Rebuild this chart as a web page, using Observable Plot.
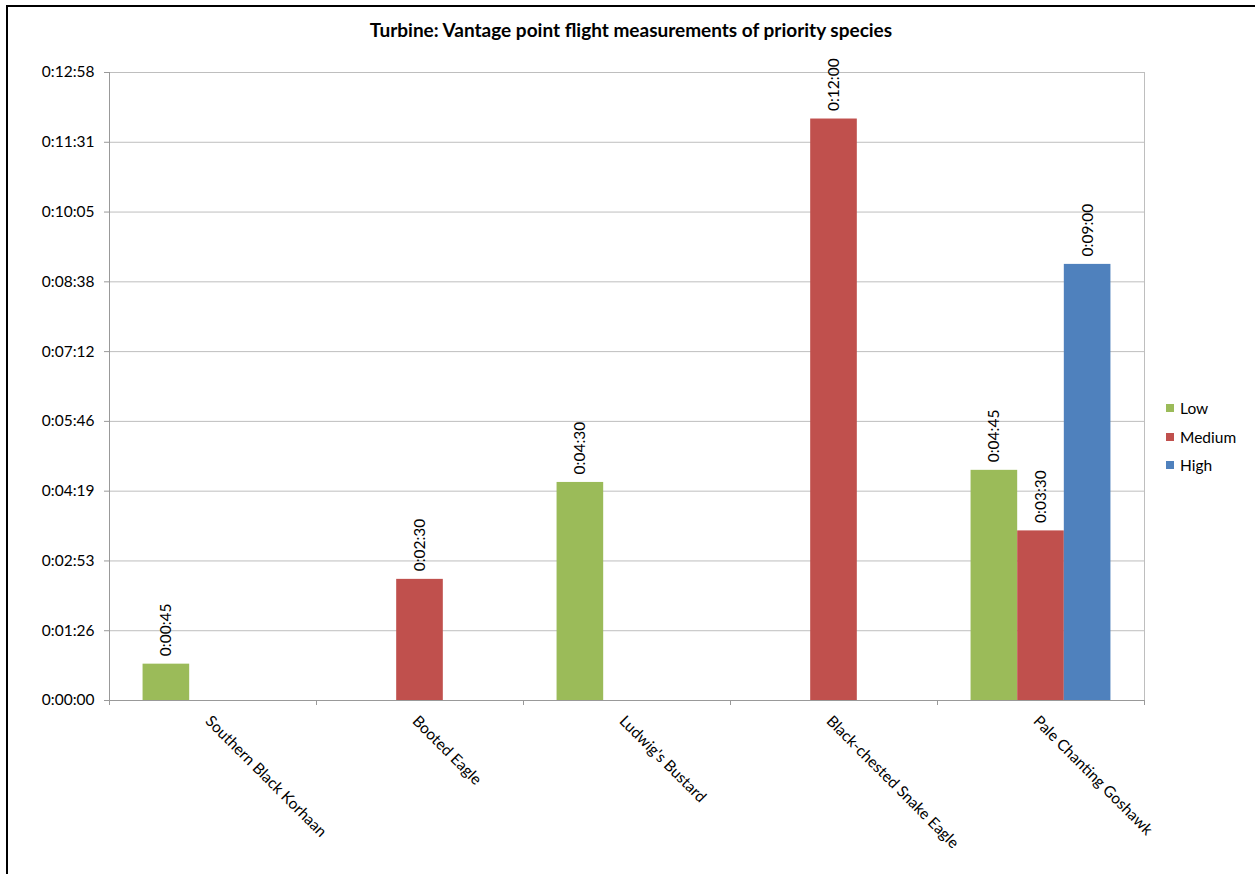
<!DOCTYPE html>
<html><head><meta charset="utf-8">
<script src="https://cdn.jsdelivr.net/npm/d3@7"></script>
<script src="https://cdn.jsdelivr.net/npm/@observablehq/plot@0.6"></script>
<style>
body{margin:0;background:#fff;font-family:Lato,sans-serif;}
#wrap{position:relative;width:1255px;height:874px;overflow:hidden;background:#fff;}
#border{position:absolute;left:6px;top:5px;width:1300px;height:900px;border-left:2px solid #000;border-top:2px solid #000;}
#title{position:absolute;left:0;width:1262px;top:18px;text-align:center;font-weight:bold;font-size:19px;color:#000;}
#chart{position:absolute;left:0;top:0;}
#legend{position:absolute;left:1166px;top:394px;font-size:15.5px;color:#000;}
.item{display:flex;align-items:center;height:28.5px;}
.sw{width:8px;height:8px;margin-right:6px;}
</style>
</head>
<body>
<div id="wrap">
  <div id="border"></div>
  <div id="chart"></div>
  <div id="title">Turbine: Vantage point flight measurements of priority species</div>
  <div id="legend"></div>
</div>
<script>
const categories = ["Southern Black Korhaan", "Booted Eagle", "Ludwig's Bustard", "Black-chested Snake Eagle", "Pale Chanting Goshawk"];
const seriesNames = ["Low", "Medium", "High"];
const seriesColors = ["#9BBB59", "#C0504D", "#4F81BD"];
// durations in seconds
const lowSeconds = [45, null, 270, null, 285];
const mediumSeconds = [null, 150, null, 720, 210];
const highSeconds = [null, null, null, null, 540];
const yTickSeconds = [0, 86.4, 172.8, 259.2, 345.6, 432, 518.4, 604.8, 691.2, 777.6];
const yTickLabels = ["0:00:00", "0:01:26", "0:02:53", "0:04:19", "0:05:46", "0:07:12", "0:08:38", "0:10:05", "0:11:31", "0:12:58"];

const seriesValues = [lowSeconds, mediumSeconds, highSeconds];
const records = [];
categories.forEach((c, i) => {
  seriesNames.forEach((s, j) => {
    const v = seriesValues[j][i];
    if (v != null) records.push({category: c, series: s, seconds: v});
  });
});

function fmt(sec) {
  const h = Math.floor(sec / 3600);
  const m = Math.floor((sec % 3600) / 60);
  const s = Math.round(sec % 60);
  return h + ":" + String(m).padStart(2, "0") + ":" + String(s).padStart(2, "0");
}

const FS = 15.5;
const chart = Plot.plot({
  width: 1255,
  height: 874,
  marginLeft: 107,
  marginRight: 110,
  marginTop: 72,
  marginBottom: 174,
  style: {fontFamily: "Lato, sans-serif", fontSize: FS + "px", color: "#000", background: "transparent", overflow: "visible"},
  fx: {domain: categories, padding: 0, axis: null},
  x: {domain: seriesNames, paddingInner: 0, paddingOuter: 0.72, round: false, axis: null},
  y: {domain: [0, yTickSeconds[yTickSeconds.length - 1]], axis: null},
  color: {domain: seriesNames, range: seriesColors},
  marks: [
    Plot.gridY(yTickSeconds, {stroke: "#BEBEBE", strokeOpacity: 1}),
    Plot.barY(records, {fx: "category", x: "series", y: "seconds", fill: "series"}),
    Plot.text(records, {fx: "category", x: "series", y: "seconds", text: d => fmt(d.seconds), rotate: -90, textAnchor: "start", lineAnchor: "middle", dy: -8, fontSize: FS, fill: "#000"}),
    Plot.text(categories, {fx: d => d, text: d => d, frameAnchor: "bottom", rotate: 45, textAnchor: "start", lineAnchor: "middle", dx: -5, dy: 18, fontSize: FS, fill: "#000"}),
    Plot.axisY(yTickSeconds, {label: null, tickFormat: d => yTickLabels[yTickSeconds.indexOf(d)], tickSize: 5, tickPadding: 10, stroke: "#999", fill: "#000", fontSize: FS}),
    Plot.frame({
      facet: "super",
      render: (index, scales, values, dims) => {
        const {width, height, marginLeft: ml, marginRight: mr, marginTop: mt, marginBottom: mb} = dims;
        const x0 = ml, x1 = width - mr, y0 = mt, y1 = height - mb;
        let bounds;
        try {
          const fx = scales.fx;
          bounds = categories.map(c => fx(c));
          bounds.push(fx(categories[categories.length - 1]) + fx.bandwidth());
          if (bounds.some(b => !isFinite(b))) throw 0;
        } catch (e) {
          bounds = d3.range(categories.length + 1).map(i => x0 + i * (x1 - x0) / categories.length);
        }
        const g = d3.create("svg:g").attr("fill", "none");
        g.append("line").attr("x1", x1 + 0.5).attr("x2", x1 + 0.5).attr("y1", y0).attr("y2", y1).attr("stroke", "#BEBEBE");
        g.append("line").attr("x1", x0 + 0.5).attr("x2", x0 + 0.5).attr("y1", y0).attr("y2", y1 + 5).attr("stroke", "#999");
        g.append("line").attr("x1", x0).attr("x2", x1).attr("y1", y1 + 0.5).attr("y2", y1 + 0.5).attr("stroke", "#999");
        bounds.forEach(b => g.append("line").attr("x1", b + 0.5).attr("x2", b + 0.5).attr("y1", y1).attr("y2", y1 + 5).attr("stroke", "#999"));
        return g.node();
      }
    })
  ]
});
document.getElementById("chart").appendChild(chart);

const legend = document.getElementById("legend");
seriesNames.forEach((s, i) => {
  const item = document.createElement("div");
  item.className = "item";
  const sw = document.createElement("div");
  sw.className = "sw";
  sw.style.background = seriesColors[i];
  const label = document.createElement("span");
  label.textContent = s;
  item.appendChild(sw);
  item.appendChild(label);
  legend.appendChild(item);
});
</script>
</body></html>
